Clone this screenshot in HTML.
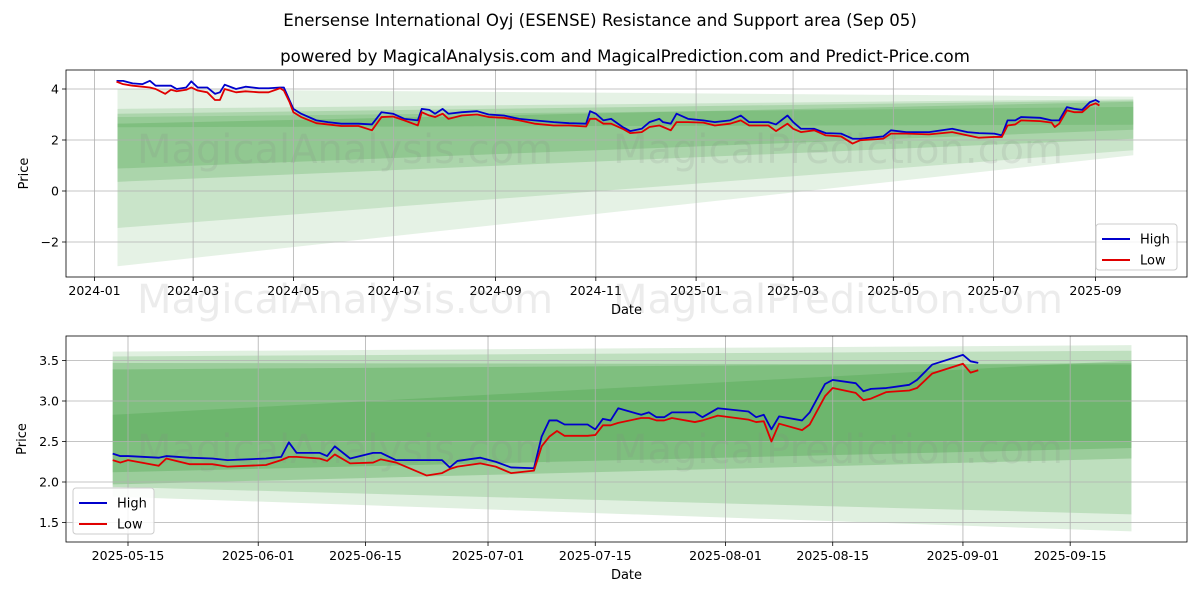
<!DOCTYPE html>
<html><head><meta charset="utf-8"><style>
body{margin:0;background:#fff;}
svg text{font-family:"DejaVu Sans","Liberation Sans",sans-serif;}
</style></head><body>
<svg id="s" width="1200" height="600" xmlns="http://www.w3.org/2000/svg">
<rect width="1200" height="600" fill="#fff"/>
<text x="600" y="26" text-anchor="middle" font-size="16.6">Enersense International Oyj (ESENSE) Resistance and Support area (Sep 05)</text>
<text x="625" y="62" text-anchor="middle" font-size="16.6">powered by MagicalAnalysis.com and MagicalPrediction.com and Predict-Price.com</text>
<g id="top"></g>
<g id="bot"></g>
</svg>
<script>
// ---- top chart data (days since 2024-01-01) ----
const topDays=[13.4,17.4,23.2,29.1,33.7,37.2,43.0,46.5,50.0,55.8,58.9,62.8,68.6,73.3,76.3,79.2,86.1,91.9,100.1,105.9,112.9,115.2,118.7,121.0,125.7,135.0,142.0,150.1,160.6,168.8,174.6,181.6,188.5,196.7,199.1,203.7,207.2,211.8,215.3,223.5,232.8,239.8,249.1,258.4,267.7,279.4,288.7,299.1,301.5,305.0,309.6,314.3,321.3,325.9,332.9,337.6,343.6,345.9,350.6,354.1,361.1,370.4,377.4,386.7,393.2,398.3,410.0,414.6,421.6,425.1,429.8,437.9,444.9,454.2,461.2,465.8,479.8,484.5,493.8,507.8,521.8,531.1,538.1,547.4,552.0,555.5,560.2,563.7,575.3,582.3,584.2,586.9,591.6,596.2,600.9,605.5,609.1,611.4];
const topHigh=[4.32,4.32,4.22,4.19,4.32,4.13,4.13,4.13,4.00,4.06,4.30,4.06,4.06,3.81,3.87,4.17,4.00,4.09,4.03,4.03,4.06,4.06,3.55,3.22,3.03,2.77,2.70,2.64,2.64,2.61,3.09,3.03,2.83,2.77,3.22,3.18,3.03,3.22,3.03,3.09,3.13,3.00,2.96,2.83,2.77,2.70,2.66,2.64,3.13,3.03,2.77,2.83,2.51,2.35,2.44,2.70,2.83,2.70,2.64,3.03,2.83,2.77,2.70,2.77,2.96,2.70,2.70,2.61,2.96,2.70,2.44,2.44,2.27,2.25,2.05,2.05,2.14,2.38,2.31,2.31,2.44,2.31,2.27,2.25,2.18,2.77,2.77,2.90,2.87,2.77,2.77,2.77,3.29,3.22,3.18,3.48,3.57,3.48];
const topLow=[4.29,4.19,4.13,4.09,4.06,4.00,3.81,3.97,3.91,3.97,4.06,3.94,3.87,3.57,3.57,4.00,3.87,3.91,3.87,3.87,4.03,3.94,3.48,3.09,2.90,2.66,2.61,2.55,2.55,2.38,2.90,2.92,2.77,2.57,3.09,2.96,2.90,3.03,2.83,2.96,3.00,2.90,2.87,2.77,2.64,2.57,2.57,2.53,2.83,2.83,2.64,2.64,2.44,2.27,2.31,2.51,2.57,2.51,2.38,2.70,2.70,2.68,2.57,2.64,2.77,2.57,2.57,2.35,2.64,2.44,2.31,2.38,2.18,2.14,1.86,1.99,2.05,2.25,2.25,2.22,2.31,2.18,2.09,2.12,2.12,2.57,2.61,2.77,2.74,2.68,2.51,2.64,3.16,3.09,3.09,3.35,3.44,3.35];
const topBandStartLo=[-2.95,-1.45,0.36,0.88,2.5];
const topBandStartHi=[4.0,3.22,3.03,2.64,2.9];
const topBandEndLo=[1.40,1.60,2.05,2.40,2.6];
const topBandEndHi=[3.70,3.60,3.55,3.50,3.3];
const topBandAlpha=[0.10,0.12,0.15,0.15,0.12];
const topYTicks=[4,2,0,-2];
const topXTicks=["2024-01","2024-03","2024-05","2024-07","2024-09","2024-11","2025-01","2025-03","2025-05","2025-07","2025-09"];

// ---- bottom chart data (date strings 2025) ----
const botDates=["05-13","05-14","05-15","05-19","05-20","05-23","05-26","05-28","06-02","06-04","06-05","06-06","06-09","06-10","06-11","06-13","06-16","06-17","06-19","06-23","06-25","06-26","06-27","06-30","07-02","07-04","07-07","07-08","07-09","07-10","07-11","07-14","07-15","07-16","07-17","07-18","07-21","07-22","07-23","07-24","07-25","07-28","07-29","07-31","08-04","08-05","08-06","08-07","08-08","08-11","08-12","08-14","08-15","08-18","08-19","08-20","08-22","08-25","08-26","08-28","09-01","09-02","09-03"];
const botHigh=[2.35,2.32,2.32,2.30,2.32,2.30,2.29,2.27,2.29,2.31,2.49,2.36,2.36,2.32,2.44,2.29,2.36,2.36,2.27,2.27,2.27,2.18,2.26,2.30,2.25,2.18,2.17,2.56,2.76,2.76,2.71,2.71,2.65,2.78,2.76,2.91,2.83,2.86,2.80,2.80,2.86,2.86,2.80,2.91,2.87,2.80,2.83,2.65,2.81,2.76,2.86,3.21,3.26,3.22,3.12,3.15,3.16,3.20,3.26,3.45,3.57,3.49,3.47];
const botLow=[2.27,2.24,2.27,2.20,2.29,2.22,2.22,2.19,2.21,2.27,2.31,2.31,2.29,2.26,2.34,2.23,2.24,2.28,2.24,2.08,2.11,2.16,2.19,2.23,2.19,2.11,2.14,2.44,2.56,2.63,2.57,2.57,2.58,2.70,2.70,2.73,2.79,2.79,2.76,2.76,2.79,2.74,2.76,2.82,2.77,2.74,2.75,2.50,2.72,2.64,2.71,3.06,3.16,3.10,3.01,3.03,3.11,3.13,3.16,3.34,3.46,3.35,3.38];
const botBandStartLo=[1.82,1.94,1.97,2.12,2.50];
const botBandStartHi=[3.61,3.55,3.47,3.39,2.83];
const botBandEndLo=[1.39,1.60,2.29,2.42,2.50];
const botBandEndHi=[3.69,3.62,3.45,3.47,3.50];
const botBandAlpha=[0.12,0.15,0.18,0.18,0.14];
const botYTicks=[1.5,2.0,2.5,3.0,3.5];
const botXTicks=["2025-05-15","2025-06-01","2025-06-15","2025-07-01","2025-07-15","2025-08-01","2025-08-15","2025-09-01","2025-09-15"];

const NS="http://www.w3.org/2000/svg";
function mk(p,tag,at){const e=document.createElementNS(NS,tag);for(const k in at)e.setAttribute(k,at[k]);p.appendChild(e);return e;}
const D0=Date.UTC(2024,0,1);
function dayOf(s){const p=s.split("-").map(Number);return (Date.UTC(p[0],p[1]-1,p[2]||1)-D0)/86400000;}

function panel(g,o){
  const {x0,x1,y0,y1,xs,ys}=o;
  o.bandSL.forEach((v,i)=>{
    const xa=xs(o.bandStart),xb=xs(o.bandEnd);
    const p=mk(g,"polygon",{points:`${xa},${ys(o.bandSH[i])} ${xb},${ys(o.bandEH[i])} ${xb},${ys(o.bandEL[i])} ${xa},${ys(v)}`,fill:"#008000","fill-opacity":o.bandA[i]});
    
    
  });
  o.xt.forEach(t=>{const x=xs(dayOf(t));
    const l=mk(g,"line",{x1:x,x2:x,y1:y0,y2:y1,stroke:"#b0b0b0","stroke-width":0.8});
    
    mk(g,"line",{x1:x,x2:x,y1:y1,y2:y1+4,stroke:"#000","stroke-width":0.8});
    const tx=mk(g,"text",{x:x,y:y1+18,"text-anchor":"middle","font-size":12.5});tx.textContent=t;
    
  });
  o.yt.forEach(t=>{const y=ys(t);
    const l=mk(g,"line",{x1:x0,x2:x1,y1:y,y2:y,stroke:"#b0b0b0","stroke-width":0.8});
    
    mk(g,"line",{x1:x0-4,x2:x0,y1:y,y2:y,stroke:"#000","stroke-width":0.8});
    const tx=mk(g,"text",{x:x0-7,y:y+4.5,"text-anchor":"end","font-size":12.5});tx.textContent=o.fmt(t);
    
  });
  o.wm.forEach(w=>{const t=mk(g,"text",{x:w[0],y:w[1],"text-anchor":"middle","font-size":40,fill:"#888","fill-opacity":0.16});t.textContent=w[2];
    });
  const line=(vals,col,name)=>{const pts=o.days.map((d,i)=>xs(d)+","+ys(vals[i])).join(" ");
    const p=mk(g,"polyline",{points:pts,fill:"none",stroke:col,"stroke-width":1.8,"stroke-linejoin":"round"});
    };
  line(o.high,"#0000cc","high-line");
  line(o.low,"#e00000","low-line");
  const r=mk(g,"rect",{x:x0,y:y0,width:x1-x0,height:y1-y0,fill:"none",stroke:"#000","stroke-width":0.8});
  
  const xl=mk(g,"text",{x:(x0+x1)/2,y:y1+37,"text-anchor":"middle","font-size":13});xl.textContent="Date";
  
  const cy=(y0+y1)/2;
  const yl=mk(g,"text",{x:o.ylx,y:cy,"text-anchor":"middle","font-size":13,transform:`rotate(-90 ${o.ylx} ${cy})`});yl.textContent="Price";
  
  const [lx,ly]=o.leg;
  const lg=mk(g,"g",{});
  mk(lg,"rect",{x:lx,y:ly,width:81,height:46,rx:3,fill:"#fff","fill-opacity":0.85,stroke:"#ccc"});
  [["High","#0000cc",15],["Low","#e00000",36]].forEach(e=>{
    const ent=mk(lg,"g",{});
    mk(ent,"line",{x1:lx+6,x2:lx+34,y1:ly+e[2],y2:ly+e[2],stroke:e[1],"stroke-width":2});
    const t=mk(ent,"text",{x:lx+44,y:ly+e[2]+4.5,"font-size":13});t.textContent=e[0];
  });
}

panel(document.getElementById("top"),{
  x0:66,x1:1187,y0:70,y1:277,
  xs:d=>94.5+d*1.6437, ys:v=>191-25.5*v,
  days:topDays,high:topHigh,low:topLow,
  bandStart:dayOf("2024-01-15"),bandEnd:dayOf("2025-09-24"),
  bandSL:topBandStartLo,bandSH:topBandStartHi,bandEL:topBandEndLo,bandEH:topBandEndHi,bandA:topBandAlpha,
  xt:topXTicks,yt:topYTicks,fmt:t=>t<0?"\u2212"+(-t):String(t),
  wm:[[345,163,"MagicalAnalysis.com"],[838,163,"MagicalPrediction.com"],[345,313,"MagicalAnalysis.com"],[838,313,"MagicalPrediction.com"]],
  ylx:28,leg:[1096,224]
});
const bd0=dayOf("2025-05-15");
panel(document.getElementById("bot"),{
  x0:66,x1:1187,y0:336,y1:542,
  xs:d=>128+(d-bd0)*7.66, ys:v=>482-81*(v-2),
  days:botDates.map(s=>dayOf("2025-"+s)),high:botHigh,low:botLow,
  bandStart:dayOf("2025-05-13"),bandEnd:dayOf("2025-09-23"),
  bandSL:botBandStartLo,bandSH:botBandStartHi,bandEL:botBandEndLo,bandEH:botBandEndHi,bandA:botBandAlpha,
  xt:botXTicks,yt:botYTicks,fmt:t=>t.toFixed(1),
  wm:[[345,463,"MagicalAnalysis.com"],[838,463,"MagicalPrediction.com"]],
  ylx:26,leg:[73,488]
});
</script>
</body></html>
